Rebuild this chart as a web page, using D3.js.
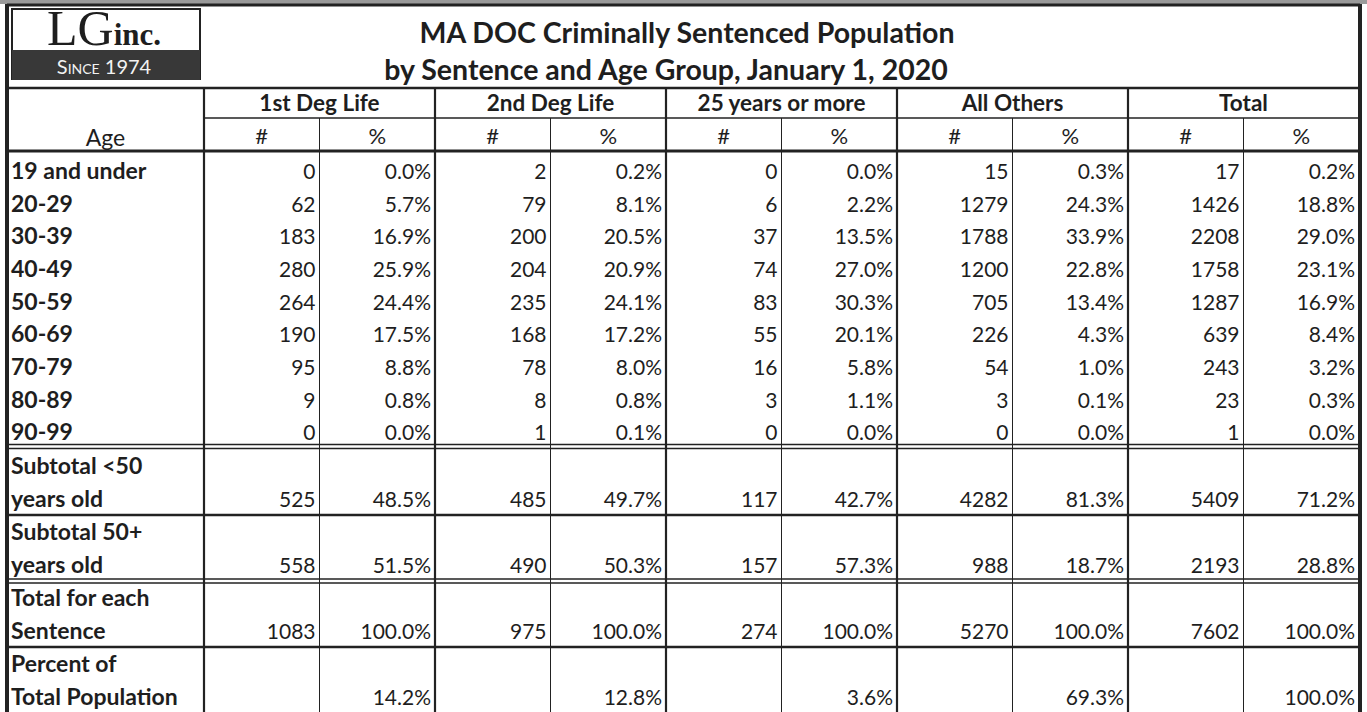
<!DOCTYPE html>
<html>
<head>
<meta charset="utf-8">
<script src="https://cdnjs.cloudflare.com/ajax/libs/d3/7.8.5/d3.min.js"></script>
<style>
  body { margin:0; background:#fff; }
  svg text { font-family: Lato, "Open Sans", sans-serif; fill:#1e1e1e; }
</style>
</head>
<body>
<svg id="chart" width="1367" height="712"></svg>
<script>

var titleLines = ["MA DOC Criminally Sentenced Population",
                  "by Sentence and Age Group, January 1, 2020"]
var sentences = ["1st Deg Life","2nd Deg Life","25 years or more","All Others","Total"]
var subHeads = ["#","%"]
var ageGroups = ["19 and under","20-29","30-39","40-49","50-59","60-69","70-79","80-89","90-99"]

var firstDegN   = [0,62,183,280,264,190,95,9,0]
var firstDegPct = [0.0,5.7,16.9,25.9,24.4,17.5,8.8,0.8,0.0]
var secondDegN   = [2,79,200,204,235,168,78,8,1]
var secondDegPct = [0.2,8.1,20.5,20.9,24.1,17.2,8.0,0.8,0.1]
var yrs25N   = [0,6,37,74,83,55,16,3,0]
var yrs25Pct = [0.0,2.2,13.5,27.0,30.3,20.1,5.8,1.1,0.0]
var othersN   = [15,1279,1788,1200,705,226,54,3,0]
var othersPct = [0.3,24.3,33.9,22.8,13.4,4.3,1.0,0.1,0.0]
var totalN   = [17,1426,2208,1758,1287,639,243,23,1]
var totalPct = [0.2,18.8,29.0,23.1,16.9,8.4,3.2,0.3,0.0]

var summaryLabels = [["Subtotal <50","years old"],["Subtotal 50+","years old"],
                     ["Total for each","Sentence"],["Percent of","Total Population"]]
var under50   = [525,48.5,485,49.7,117,42.7,4282,81.3,5409,71.2]
var over50    = [558,51.5,490,50.3,157,57.3,988,18.7,2193,28.8]
var sentTotal = [1083,100.0,975,100.0,274,100.0,5270,100.0,7602,100.0]
var pctOfPop  = [null,14.2,null,12.8,null,3.6,null,69.3,null,100.0]

// ---- layout ----
var svg = d3.select('#chart')
var left = 7, right = 1360
var x = d3.scaleLinear().domain([0,10]).range([204,1359])
var yData = d3.scaleLinear().domain([0,9]).range([152,446])
var ySum = d3.scaleLinear().domain([0,4]).range([449,713])
var fmtPct = function(v){ return v==null ? "" : d3.format(".1f")(v)+"%" }
var ink = "#222"

// scanned grey strip at the very top
svg.append('rect').attr('x',0).attr('y',0).attr('width',1367).attr('height',4).attr('fill','#9a9a9a')

// logo
var logo = svg.append('g')
logo.append('rect').attr('x',12).attr('y',9).attr('width',188).attr('height',70)
  .attr('fill','#fff').attr('stroke',ink).attr('stroke-width',2)
logo.append('rect').attr('x',12).attr('y',50).attr('width',188).attr('height',30).attr('fill','#383838')
var lg = logo.append('text').attr('x',104).attr('y',45).attr('text-anchor','middle')
  .style('font-family','"Liberation Serif", "DejaVu Serif", serif')
lg.append('tspan').text('LG').style('font-size','50px')
lg.append('tspan').text('inc.').style('font-size','31px').style('font-weight','bold')
logo.append('text').attr('x',104).attr('y',74).attr('text-anchor','middle')
  .style('font-size','20px').style('font-variant','small-caps').style('fill','#f2f2f2')
  .text('Since 1974')

// title
svg.selectAll('text.title').data(titleLines).enter().append('text')
  .attr('class','title')
  .attr('x',function(d,i){ return i==0 ? 687 : 666 })
  .attr('y',function(d,i){ return i==0 ? 43 : 80 })
  .attr('text-anchor','middle')
  .style('font-size','28.5px').style('font-weight','bold')
  .text(function(d){ return d })

// group headers
svg.selectAll('text.group').data(sentences).enter().append('text')
  .attr('class','group')
  .attr('x',function(d,i){ return (x(i*2)+x(i*2+2))/2 })
  .attr('y',111).attr('text-anchor','middle')
  .style('font-size','22.5px').style('font-weight','bold')
  .text(function(d){ return d })

svg.selectAll('text.sub').data(d3.range(10)).enter().append('text')
  .attr('class','sub')
  .attr('x',function(i){ return (x(i)+x(i+1))/2 })
  .attr('y',144).attr('text-anchor','middle')
  .style('font-size','22px')
  .text(function(i){ return subHeads[i%2] })

svg.append('text').attr('x',(left+x(0))/2).attr('y',146).attr('text-anchor','middle')
  .style('font-size','23px').text('Age')

// data rows
var cols = [firstDegN,firstDegPct,secondDegN,secondDegPct,yrs25N,yrs25Pct,othersN,othersPct,totalN,totalPct]
var rows = ageGroups.map(function(a,r){
  return {label:a, values: cols.map(function(c){ return c[r] })}
})
var rowG = svg.selectAll('g.row').data(rows).enter().append('g').attr('class','row')
  .attr('transform',function(d,r){ return 'translate(0,'+(yData(r)+27)+')' })
rowG.append('text').attr('x',left+4).style('font-size','23px').style('font-weight','bold')
  .text(function(d){ return d.label })
rowG.selectAll('text.v').data(function(d){ return d.values }).enter().append('text')
  .attr('class','v')
  .attr('x',function(v,i){ return x(i+1)-4 }).attr('text-anchor','end')
  .style('font-size','21px')
  .text(function(v,i){ return i%2 ? fmtPct(v) : v })

// summary rows
var sums = [under50,over50,sentTotal,pctOfPop].map(function(v,r){
  return {label:summaryLabels[r], values:v}
})
var sumG = svg.selectAll('g.sum').data(sums).enter().append('g').attr('class','sum')
  .attr('transform',function(d,r){ return 'translate(0,'+(ySum(r+1)-8)+')' })
sumG.selectAll('text.lab').data(function(d){ return d.label }).enter().append('text')
  .attr('class','lab').attr('x',left+4).attr('y',function(d,i){ return i==0 ? -33 : 0 })
  .style('font-size','23px').style('font-weight','bold')
  .text(function(d){ return d })
sumG.selectAll('text.v').data(function(d){ return d.values }).enter().append('text')
  .attr('class','v')
  .attr('x',function(v,i){ return x(i+1)-4 }).attr('text-anchor','end')
  .style('font-size','21px')
  .text(function(v,i){ return i%2 ? fmtPct(v) : (v==null ? "" : v) })

// grid lines
var lines = svg.append('g').attr('stroke',ink).attr('fill','none')
function hline(y,w,x0){ lines.append('line').attr('x1',x0==null?left:x0).attr('x2',right).attr('y1',y).attr('y2',y).attr('stroke-width',w) }
function vline(xx,y0,y1,w){ return lines.append('line').attr('x1',xx).attr('x2',xx).attr('y1',y0).attr('y2',y1).attr('stroke-width',w) }

hline(5,3)
hline(88,2.5)
hline(118,1.5,x(0))
hline(151,3)
hline(444.5,1.5); hline(448.5,1.5)
;[1,2,3].forEach(function(r){
  var y = ySum(r)
  if(r==2){ hline(y-2,1.5); hline(y+2,1.5) } else hline(y,2.5)
})
vline(left,4,712,4)
vline(right,4,712,4)
d3.range(0,10).forEach(function(i){
  vline(x(i), i%2 ? 118 : 88, 712, i%2 ? 1 : 2.2)
})
</script>
</body>
</html>
